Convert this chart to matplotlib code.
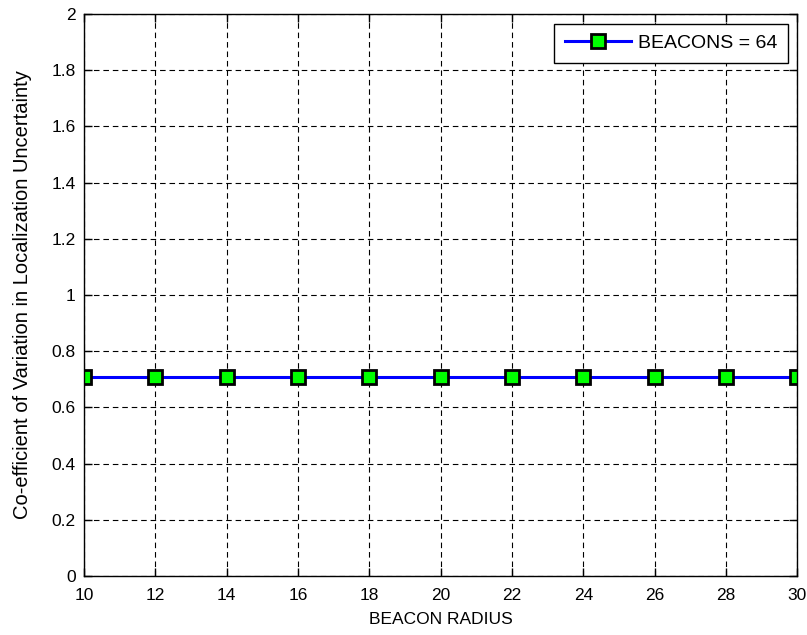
import matplotlib
matplotlib.use("Agg")
import matplotlib.pyplot as plt

radius = [10, 12, 14, 16, 18, 20, 22, 24, 26, 28, 30]
cov = [0.707, 0.707, 0.707, 0.707, 0.707, 0.707, 0.707, 0.707, 0.707, 0.707, 0.707]
yticks = [0, 0.2, 0.4, 0.6, 0.8, 1, 1.2, 1.4, 1.6, 1.8, 2]
ytick_labels = ['0', '0.2', '0.4', '0.6', '0.8', '1', '1.2', '1.4', '1.6', '1.8', '2']

plt.rcParams['font.family'] = ['Liberation Sans', 'DejaVu Sans']

fig = plt.figure(figsize=(8.07, 6.35), dpi=100, facecolor='white')
ax = fig.add_axes([0.104, 0.093, 0.884, 0.885])

ax.plot(radius, cov, color='blue', linewidth=2.2, marker='s', markersize=10,
        markerfacecolor='#00ff00', markeredgecolor='black', markeredgewidth=2,
        label='BEACONS = 64')

ax.set_xlim(10, 30)
ax.set_ylim(0, 2)
ax.set_xticks(radius)
ax.set_yticks(yticks)
ax.set_yticklabels(ytick_labels)
ax.grid(True, color='black', linestyle=(0, (5, 3.5)), linewidth=0.8)
ax.tick_params(direction='in', top=True, right=True, length=6, width=1,
               labelsize=12.5)
ax.tick_params(axis='x', pad=9)
ax.tick_params(axis='y', pad=6)
for s in ax.spines.values():
    s.set_linewidth(1)

ax.set_xlabel('BEACON RADIUS', fontsize=12.5, labelpad=6)
ax.set_ylabel('Co-efficient of Variation in Localization Uncertainty',
              fontsize=14.5, labelpad=14)

leg = ax.legend(loc='upper right', fontsize=14, fancybox=False, framealpha=1,
                edgecolor='black', borderaxespad=0.5, handlelength=3.4,
                handletextpad=0.35, borderpad=0.55)
leg.get_frame().set_linewidth(1)

fig.savefig('out.png', dpi=100, facecolor='white')
